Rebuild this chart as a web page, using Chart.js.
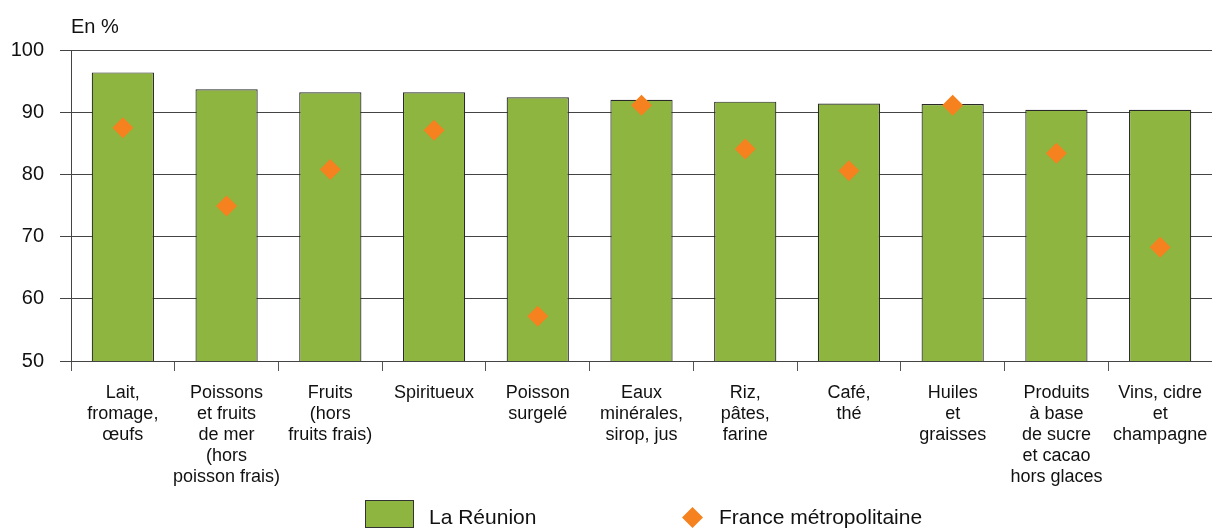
<!DOCTYPE html>
<html>
<head>
<meta charset="utf-8">
<script src="https://cdn.jsdelivr.net/npm/chart.js@4/dist/chart.umd.min.js"></script>
<style>
html,body{margin:0;padding:0;background:#fff;}
#wrap{width:1212px;height:530px;position:relative;}
</style>
</head>
<body>
<div id="wrap"><canvas id="c" width="1212" height="530"></canvas></div>
<script>
const categories = [
  ["Lait,", "fromage,", "œufs"],
  ["Poissons", "et fruits", "de mer", "(hors", "poisson frais)"],
  ["Fruits", "(hors", "fruits frais)"],
  ["Spiritueux"],
  ["Poisson", "surgelé"],
  ["Eaux", "minérales,", "sirop, jus"],
  ["Riz,", "pâtes,", "farine"],
  ["Café,", "thé"],
  ["Huiles", "et", "graisses"],
  ["Produits", "à base", "de sucre", "et cacao", "hors glaces"],
  ["Vins, cidre", "et", "champagne"]
];
const reunion = [96.4, 93.7, 93.2, 93.2, 92.4, 92.0, 91.7, 91.4, 91.3, 90.4, 90.4];
const metropole = [87.5, 74.9, 80.8, 87.1, 57.2, 91.1, 84.1, 80.6, 91.1, 83.4, 68.3];
const yTicks = [50, 60, 70, 80, 90, 100];
const seriesNames = ["La Réunion", "France métropolitaine"];
const unitLabel = "En %";

const GREEN = '#8db540';
const ORANGE = '#f5821f';
const FONT = "'Liberation Sans', Arial, sans-serif";

const extras = {
  id: 'extras',
  afterDraw(chart) {
    const ctx = chart.ctx;
    ctx.save();
    ctx.fillStyle = '#111';
    ctx.font = "20px " + FONT;
    ctx.textBaseline = 'middle';
    ctx.textAlign = 'left';
    ctx.fillText(unitLabel, 71, 27);
    // legend
    ctx.fillStyle = GREEN;
    ctx.fillRect(365.5, 500.5, 48, 27);
    ctx.strokeStyle = '#333';
    ctx.lineWidth = 1;
    ctx.strokeRect(365.5, 500.5, 48, 27);
    ctx.fillStyle = '#111';
    ctx.font = "21px " + FONT;
    ctx.fillText(seriesNames[0], 429, 518);
    ctx.fillStyle = ORANGE;
    ctx.beginPath();
    ctx.moveTo(692.5, 507);
    ctx.lineTo(703, 517.5);
    ctx.lineTo(692.5, 528);
    ctx.lineTo(682, 517.5);
    ctx.closePath();
    ctx.fill();
    ctx.fillStyle = '#111';
    ctx.fillText(seriesNames[1], 719, 518);
    ctx.restore();
  }
};

new Chart(document.getElementById('c'), {
  data: {
    labels: categories,
    datasets: [
      {
        type: 'line',
        label: seriesNames[1],
        data: metropole,
        showLine: false,
        pointStyle: 'rectRot',
        pointRadius: 10.5,
        pointHoverRadius: 10.5,
        pointBackgroundColor: ORANGE,
        pointBorderWidth: 0,
        borderColor: ORANGE,
        backgroundColor: ORANGE,
        clip: false,
        order: 0
      },
      {
        type: 'bar',
        label: seriesNames[0],
        data: reunion,
        backgroundColor: GREEN,
        borderColor: '#2a2a2a',
        borderWidth: 1.2,
        categoryPercentage: 1.0,
        barPercentage: 0.6,
        order: 1
      }
    ]
  },
  options: {
    responsive: false,
    animation: false,
    layout: { autoPadding: false, padding: { top: 50, left: 0, right: 0, bottom: 0 } },
    plugins: { legend: { display: false }, tooltip: { enabled: false }, title: { display: false } },
    scales: {
      x: {
        offset: true,
        grid: {
          offset: true,
          drawOnChartArea: false,
          drawTicks: true,
          tickLength: 10,
          color: '#555',
          lineWidth: 1
        },
        border: { display: false },
        ticks: {
          color: '#111',
          font: { family: FONT, size: 18, lineHeight: 1.1667 },
          maxRotation: 0,
          minRotation: 0,
          autoSkip: false,
          padding: 12
        },
        afterFit(scale) { scale.height = 169; scale.paddingLeft = 0; scale.paddingRight = 0; }
      },
      y: {
        min: 50,
        max: 100,
        afterBuildTicks(scale) { scale.ticks = yTicks.map(v => ({ value: v })); },
        grid: {
          color: '#444',
          lineWidth: 1,
          tickLength: 11,
          drawTicks: true
        },
        border: { display: true, color: '#444', width: 1 },
        ticks: {
          color: '#111',
          font: { family: FONT, size: 20 },
          padding: 16
        },
        afterFit(scale) { scale.width = 71; scale.paddingTop = 0; scale.paddingBottom = 0; }
      }
    }
  },
  plugins: [extras]
});
</script>
</body>
</html>
